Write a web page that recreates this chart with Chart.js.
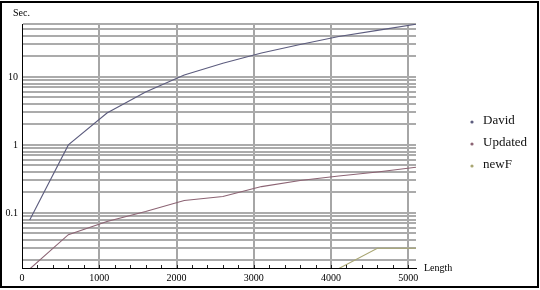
<!DOCTYPE html>
<html>
<head>
<meta charset="utf-8">
<script src="https://cdn.jsdelivr.net/npm/chart.js@4.4.0/dist/chart.umd.min.js"></script>
<style>
  html, body { margin: 0; padding: 0; background: #fff; }
  #wrap { width: 540px; height: 290px; position: relative; }
</style>
</head>
<body>
<div id="wrap"><canvas id="chart" width="540" height="290"></canvas></div>
<script>
// Longueurs testées (axe x)
const lengths = [100, 600, 1100, 1600, 2100, 2600, 3100, 3600, 4100, 4600, 5100];

// Temps mesurés (secondes) par version
const david   = [0.079, 1.0, 2.95, 6.0, 10.7, 15.9, 22.5, 30.0, 39.3, 48.3, 59.6];
const updated = [0.015, 0.048, 0.075, 0.105, 0.152, 0.174, 0.244, 0.30, 0.35, 0.40, 0.47];
const newF    = [null, null, null, null, null, null, null, null, 0.0152, 0.0303, 0.0303];

const seriesNames  = ["David", "Updated", "newF"];
const seriesColors = ["#5c5c7e", "#8c6474", "#a9a672"];

// Graduations de l'axe y (décades affichées)
const decadeLabels = ["0.1", "1", "10"];
const xLabelStep = 1000;
const xMinorStep = 200;

const yMin = 0.0155, yMax = 60;
const xMin = 0, xMax = 5100;

const toPoints = (vals) => lengths.map((x, i) => ({ x, y: vals[i] }));

// Lignes de grille y : 1..9 x 10^k
function logGridValues(min, max) {
  const out = [];
  for (let e = -2; e <= 2; e++) {
    for (let m = 1; m <= 9; m++) {
      const v = Number((m * Math.pow(10, e)).toPrecision(2));
      if (v >= min && v <= max) out.push(v);
    }
  }
  return out;
}

const serif = "'Liberation Serif', 'DejaVu Serif', serif";

// Cadre, titres d'axes, petites graduations et légende
const extras = {
  id: "extras",
  beforeDraw(chart) {
    const ctx = chart.ctx;
    ctx.save();
    ctx.fillStyle = "#fff";
    ctx.fillRect(0, 0, chart.width, chart.height);
    ctx.restore();
  },
  afterDraw(chart) {
    const { ctx, chartArea, scales } = chart;
    ctx.save();

    // petites graduations sur l'axe x
    ctx.strokeStyle = "#222";
    ctx.lineWidth = 1;
    for (let v = xMin + xMinorStep; v < xMax; v += xMinorStep) {
      const px = Math.round(scales.x.getPixelForValue(v)) + 0.5;
      ctx.beginPath();
      ctx.moveTo(px, chartArea.bottom);
      ctx.lineTo(px, chartArea.bottom - 3);
      ctx.stroke();
    }

    // titres d'axes
    ctx.fillStyle = "#000";
    ctx.font = "10px " + serif;
    ctx.textAlign = "left";
    ctx.textBaseline = "alphabetic";
    ctx.fillText("Sec.", 13, chartArea.top - 8);
    ctx.textBaseline = "middle";
    ctx.fillText("Length", chartArea.right + 8, chartArea.bottom);

    // légende
    ctx.font = "13px " + serif;
    chart.data.datasets.forEach((ds, i) => {
      const y = 122 + i * 22;
      ctx.fillStyle = ds.borderColor;
      ctx.beginPath();
      ctx.arc(472, y, 1.6, 0, Math.PI * 2);
      ctx.fill();
      ctx.fillStyle = "#111";
      ctx.textBaseline = "middle";
      ctx.fillText(ds.label, 483, y - 1);
    });

    // cadre
    ctx.strokeStyle = "#000";
    ctx.lineWidth = 2;
    ctx.strokeRect(1, 2, chart.width - 3, chart.height - 5);
    ctx.restore();
  }
};

new Chart(document.getElementById("chart"), {
  type: "line",
  data: {
    datasets: [david, updated, newF].map((vals, i) => ({
      label: seriesNames[i],
      data: toPoints(vals),
      borderColor: seriesColors[i],
      backgroundColor: seriesColors[i],
      borderWidth: 1.1,
      pointRadius: 0,
      tension: 0,
      spanGaps: false,
    })),
  },
  options: {
    responsive: false,
    animation: false,
    layout: { padding: { top: 24, right: 124, bottom: 0, left: 0 } },
    plugins: {
      legend: { display: false },
      tooltip: { enabled: false },
    },
    scales: {
      x: {
        type: "linear",
        min: xMin,
        max: xMax,
        afterFit: (scale) => { scale.height = 22; },
        afterBuildTicks: (scale) => {
          const t = [];
          for (let v = xMin; v <= xMax; v += xLabelStep) t.push({ value: v });
          scale.ticks = t;
        },
        ticks: {
          autoSkip: false,
          maxRotation: 0,
          padding: 4,
          color: "#000",
          font: { family: serif, size: 10 },
          callback: (v) => String(v),
        },
        grid: {
          drawTicks: false,
          lineWidth: 2,
          color: (c) => (c.tick && c.tick.value > xMin ? "#a6a6a6" : "rgba(0,0,0,0)"),
        },
        border: { color: "#000", width: 1 },
      },
      y: {
        type: "logarithmic",
        min: yMin,
        max: yMax,
        afterFit: (scale) => { scale.width = 22; },
        afterBuildTicks: (scale) => {
          scale.ticks = logGridValues(yMin, yMax).map((v) => ({ value: v }));
        },
        ticks: {
          autoSkip: false,
          padding: 4,
          color: "#000",
          font: { family: serif, size: 10 },
          callback: (v) => {
            const s = String(Number(Number(v).toPrecision(2)));
            return decadeLabels.includes(s) ? s : "";
          },
        },
        grid: {
          drawTicks: false,
          lineWidth: 2,
          color: "#ababab",
        },
        border: { color: "#000", width: 1 },
      },
    },
  },
  plugins: [extras],
});
</script>
</body>
</html>
